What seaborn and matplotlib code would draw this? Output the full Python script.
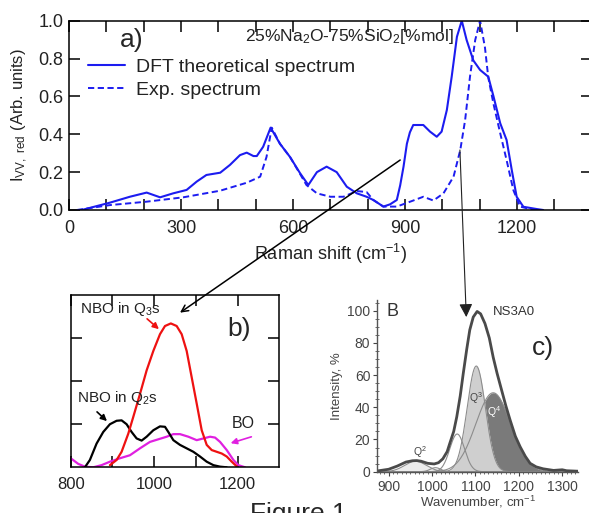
import numpy as np
import pandas as pd
import matplotlib
matplotlib.use("Agg")
import matplotlib.pyplot as plt
from matplotlib.patches import ConnectionPatch, FancyArrowPatch
from matplotlib.ticker import MultipleLocator, FormatStrFormatter
import seaborn as sns

sns.set_style("ticks")
plt.rcParams["font.family"] = ["Liberation Sans", "DejaVu Sans"]
plt.rcParams["mathtext.default"] = "regular"

# ---------------- a) Raman spectra of 25%Na2O-75%SiO2 ----------------
dft_shift = [34, 110, 163, 208, 244, 279, 315, 342, 368, 405, 431, 458, 476, 494, 503,
             520, 540, 565, 592, 619, 641, 664, 690, 717, 744, 771, 797, 815, 842, 860,
             878, 887, 896, 905, 913, 922, 949, 967, 985, 998, 1012, 1025, 1039, 1052,
             1065, 1083, 1101, 1123, 1137, 1155, 1172, 1186, 1199, 1217, 1253, 1270]
dft_int = [0.0, 0.039, 0.07, 0.092, 0.067, 0.088, 0.106, 0.15, 0.185, 0.197, 0.238, 0.29,
           0.303, 0.285, 0.285, 0.334, 0.435, 0.35, 0.28, 0.194, 0.132, 0.20, 0.229, 0.20,
           0.123, 0.088, 0.07, 0.053, 0.018, 0.03, 0.053, 0.13, 0.229, 0.35, 0.41, 0.449,
           0.449, 0.414, 0.387, 0.414, 0.528, 0.704, 0.915, 1.0, 0.898, 0.79, 0.74, 0.704,
           0.60, 0.458, 0.37, 0.21, 0.07, 0.017, 0.005, 0.0]

exp_shift = [21, 110, 208, 306, 405, 476, 512, 529, 543, 565, 592, 619, 636, 664, 700,
             735, 771, 797, 815, 842, 878, 922, 949, 976, 1003, 1030, 1048, 1061, 1074,
             1088, 1101, 1114, 1123, 1137, 1155, 1172, 1190, 1208, 1235, 1262]
exp_int = [0.0, 0.026, 0.044, 0.067, 0.102, 0.144, 0.176, 0.28, 0.435, 0.35, 0.28, 0.19,
           0.132, 0.088, 0.07, 0.07, 0.10, 0.095, 0.053, 0.018, 0.018, 0.05, 0.07, 0.05,
           0.088, 0.176, 0.317, 0.475, 0.704, 0.898, 1.0, 0.86, 0.70, 0.56, 0.405, 0.264,
           0.106, 0.018, 0.005, 0.0]

# ---------------- b) partial spectra by oxygen species ----------------
q3_shift = [894, 910, 922, 938, 950, 966, 982, 998, 1014, 1026, 1040, 1054, 1066, 1078,
            1090, 1102, 1114, 1126, 1138, 1150, 1162, 1174, 1186, 1198]
q3_int = [0.05, 0.17, 0.36, 0.78, 1.17, 1.7, 2.25, 2.7, 3.09, 3.28, 3.34, 3.28, 3.09, 2.7,
          2.09, 1.48, 0.86, 0.52, 0.40, 0.36, 0.32, 0.25, 0.13, 0.02]

q2_shift = [834, 846, 862, 878, 894, 910, 922, 934, 946, 958, 970, 982, 998, 1014, 1026,
            1034, 1046, 1062, 1078, 1094, 1110, 1126, 1142, 1158, 1174]
q2_int = [0.0, 0.17, 0.55, 0.82, 1.0, 1.08, 1.09, 1.0, 0.82, 0.67, 0.62, 0.71, 0.86, 0.95,
          0.94, 0.82, 0.63, 0.52, 0.44, 0.36, 0.25, 0.13, 0.05, 0.015, 0.0]

bo_shift = [800, 818, 834, 854, 874, 894, 918, 942, 966, 990, 1010, 1030, 1046, 1062,
            1082, 1102, 1118, 1134, 1146, 1158, 1174, 1190, 1202, 1218]
bo_int = [0.21, 0.08, 0.015, 0.0, 0.05, 0.13, 0.21, 0.28, 0.44, 0.59, 0.65, 0.71, 0.77,
          0.77, 0.71, 0.63, 0.67, 0.71, 0.69, 0.59, 0.40, 0.17, 0.05, 0.0]

# ---------------- c) NS3A0 measured envelope and Qn bands ----------------
env_wn = [875, 900, 920, 940, 955, 965, 975, 990, 1005, 1015, 1025, 1035, 1041, 1050, 1057,
          1065, 1072, 1080, 1087, 1095, 1104, 1112, 1122, 1132, 1141, 1150, 1160, 1170,
          1180, 1192, 1203, 1215, 1226, 1240, 1256, 1280, 1300, 1310, 1337]
env_int = [0.5, 1.5, 3.5, 6.0, 6.8, 6.9, 6.5, 5.2, 4.8, 5.6, 8.0, 12.5, 17.6, 25, 34, 47,
           61, 76, 88, 96, 99.5, 98, 92, 83, 71, 61, 51, 41, 32, 22, 15.5, 9.5, 5.2, 3.0,
           1.8, 0.8, 1.2, 0.6, 0.3]

band_names = ["Q2", "Q2b", "Q3a", "Q3", "Q4"]
band_center = [962, 1008, 1058, 1102, 1141]
band_height = [6.5, 2.5, 23.4, 65.6, 49.0]
band_sigma = [25, 12, 17, 21, 40]

BLUE = "#1c1cf0"
DASH = (0, (3.2, 1.8))

W, H = 589, 513
fig = plt.figure(figsize=(W / 100, H / 100), dpi=100)


def rect(l, r, t, b):
    return [l / W, 1 - b / H, (r - l) / W, (b - t) / H]


def fp(x, y):
    return (x / W, 1 - y / H)


# ---------- panel a ----------
ax_a = fig.add_axes(rect(69, 591.7, 20.7, 210))
da = pd.DataFrame({"shift": dft_shift, "I": dft_int})
ea = pd.DataFrame({"shift": exp_shift, "I": exp_int})
sns.lineplot(data=da, x="shift", y="I", ax=ax_a, color=BLUE, lw=1.5,
             label="DFT theoretical spectrum", sort=False)
sns.lineplot(data=ea, x="shift", y="I", ax=ax_a, color=BLUE, lw=1.4,
             label="Exp. spectrum", sort=False)
ax_a.lines[1].set_linestyle(DASH)
ax_a.set_xlim(0, 1400)
ax_a.set_ylim(0, 1.0)
ax_a.xaxis.set_major_locator(MultipleLocator(300))
ax_a.xaxis.set_minor_locator(MultipleLocator(100))
ax_a.yaxis.set_major_locator(MultipleLocator(0.2))
ax_a.yaxis.set_major_formatter(FormatStrFormatter("%.1f"))
ax_a.tick_params(which="both", direction="in", bottom=True, left=True, top=True,
                 right=True, length=8, width=1.1, color="black", labelsize=13,
                 labelcolor="#222222")
ax_a.tick_params(axis="x", which="both", pad=7)
ax_a.tick_params(axis="y", which="both", pad=4)
for s in ax_a.spines.values():
    s.set_linewidth(1.1)
    s.set_color("black")
ax_a.set_xlabel("Raman shift (cm$^{-1}$)", fontsize=13, labelpad=4, color="#222222")
ax_a.set_ylabel("I$_{VV,\\ red}$ (Arb. units)", fontsize=12, labelpad=6, color="#222222")
leg = ax_a.legend(loc="upper left", bbox_to_anchor=(0.036, 0.80), frameon=False,
                  fontsize=14, handlelength=1.9, handletextpad=0.6,
                  labelspacing=0.28, borderaxespad=0, borderpad=0)
leg.get_lines()[1].set_linestyle(DASH)
for t in leg.get_texts():
    t.set_color("#222222")
fig.text(*fp(120, 40), "a)", fontsize=19, va="center", ha="left")
fig.text(*fp(245, 36), "25%Na$_2$O-75%SiO$_2$[%mol]", fontsize=12.5, va="center",
         ha="left", color="#222222")

# ---------- panel b ----------
ax_b = fig.add_axes(rect(70.7, 279.3, 295, 467.3))
sns.lineplot(x=bo_shift, y=bo_int, ax=ax_b, color="#e020e0", lw=1.6, sort=False)
sns.lineplot(x=q2_shift, y=q2_int, ax=ax_b, color="black", lw=1.6, sort=False)
sns.lineplot(x=q3_shift, y=q3_int, ax=ax_b, color="#ee1111", lw=1.6, sort=False)
ax_b.set_xlim(800, 1300)
ax_b.set_ylim(0, 4)
ax_b.set_xticks([800, 900, 1000, 1100, 1200])
ax_b.set_xticklabels(["800", "", "1000", "", "1200"])
ax_b.set_yticks([1, 2, 3])
ax_b.set_yticklabels([])
ax_b.tick_params(direction="in", bottom=True, left=True, top=True, right=True,
                 length=8, width=1.1, color="black", labelsize=12, pad=7,
                 labelcolor="#222222")
for s in ax_b.spines.values():
    s.set_linewidth(1.1)
    s.set_color("black")
ax_b.set_xlabel("")
ax_b.set_ylabel("")
fig.text(*fp(80, 309), "NBO in Q$_3$s", fontsize=11, va="center", color="#222222")
fig.text(*fp(77, 398), "NBO in Q$_2$s", fontsize=11, va="center", color="#222222")
fig.text(*fp(232, 424), "BO", fontsize=11.5, va="center", color="#222222")
fig.text(*fp(227, 329), "b)", fontsize=19, va="center", ha="left")
for (x0, y0, x1, y1, c) in [(145, 317, 161, 331, "#ee1111"),
                            (95, 410, 109, 423, "black"),
                            (254, 436, 228, 444, "#e020e0")]:
    fig.add_artist(FancyArrowPatch(fp(x0, y0), fp(x1, y1), transform=fig.transFigure,
                                   arrowstyle="-|>", mutation_scale=9, color=c, lw=1.2))

# ---------- panel c ----------
ax_c = fig.add_axes(rect(377.3, 578.3, 300, 471.7))
wn = np.linspace(874, 1337, 600)
bands = {n: h * np.exp(-(wn - c) ** 2 / (2 * s ** 2))
         for n, c, h, s in zip(band_names, band_center, band_height, band_sigma)}
EDGE = "#8c8c8c"
ax_c.fill_between(wn, 0, bands["Q2"], color="#ececec", lw=0)
ax_c.fill_between(wn, 0, bands["Q3a"], color="white", lw=0)
ax_c.fill_between(wn, bands["Q3"], bands["Q4"],
                  where=(wn >= 1100) & (bands["Q4"] > bands["Q3"]),
                  color="#7a7a7a", lw=0, interpolate=True)
ax_c.fill_between(wn, 0, bands["Q3"], color="#cfcfcf", lw=0)
for n in band_names:
    sns.lineplot(x=wn, y=bands[n], ax=ax_c, color=EDGE, lw=0.8, sort=False)
sns.lineplot(x=env_wn, y=env_int, ax=ax_c, color="#4a4a4a", lw=2.0, sort=False)
ax_c.set_xlim(874, 1337)
ax_c.set_ylim(0, 106.6)
ax_c.xaxis.set_major_locator(MultipleLocator(100))
ax_c.xaxis.set_minor_locator(MultipleLocator(10))
ax_c.yaxis.set_major_locator(MultipleLocator(20))
ax_c.yaxis.set_minor_locator(MultipleLocator(5))
ax_c.tick_params(which="major", direction="out", length=3, width=0.8, labelsize=10,
                 colors="#444444")
ax_c.tick_params(axis="x", which="major", pad=3)
ax_c.tick_params(axis="y", which="major", pad=2)
ax_c.tick_params(which="minor", direction="inout", length=3, width=0.6, colors="#555555")
sns.despine(ax=ax_c)
for s in ["left", "bottom"]:
    ax_c.spines[s].set_linewidth(1.0)
    ax_c.spines[s].set_color("#555555")
ax_c.set_xlabel("Wavenumber, cm$^{-1}$", fontsize=9.5, color="#444444", labelpad=0)
ax_c.set_ylabel("Intensity, %", fontsize=9.5, color="#444444", labelpad=3)
fig.text(*fp(387, 311), "B", fontsize=13, va="center", color="#333333")
fig.text(*fp(514, 312), "NS3A0", fontsize=9.5, va="center", ha="center", color="#333333")
fig.text(*fp(532, 348), "c)", fontsize=19, va="center", ha="left")
fig.text(*fp(420, 452), "Q$^2$", fontsize=7.5, va="center", ha="center", color="#444444")
fig.text(*fp(476, 398), "Q$^3$", fontsize=7.5, va="center", ha="center", color="#444444")
fig.text(*fp(494, 412), "Q$^4$", fontsize=7.5, va="center", ha="center", color="white")

# ---------- connecting arrows ----------
fig.add_artist(ConnectionPatch(xyA=(887, 0.264), coordsA=ax_a.transData,
                               xyB=(1062, 3.59), coordsB=ax_b.transData,
                               arrowstyle="->", mutation_scale=12, lw=1.1, color="black"))
fig.add_artist(ConnectionPatch(xyA=(1047, 0.317), coordsA=ax_a.transData,
                               xyB=(1079, 96), coordsB=ax_c.transData,
                               arrowstyle="-|>", mutation_scale=20, lw=0.8, color="#222222"))

fig.text(*fp(250, 521), "Figure 1", fontsize=19, va="baseline", ha="left")

fig.savefig("out.png", dpi=100)
